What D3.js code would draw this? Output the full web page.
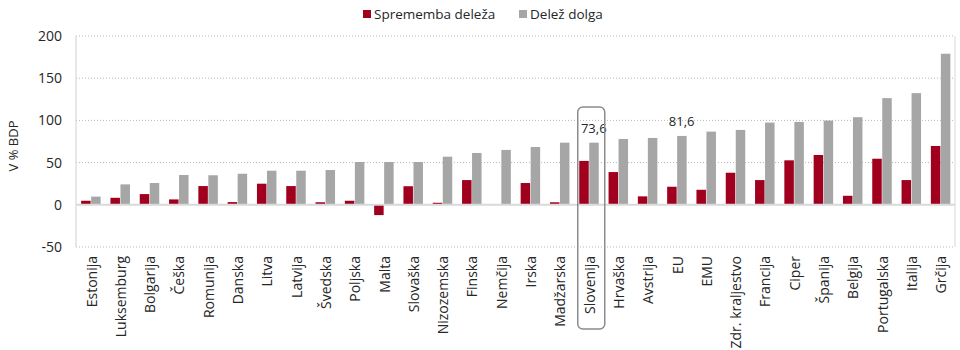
<!DOCTYPE html>
<html>
<head>
<meta charset="utf-8">
<script src="https://cdn.jsdelivr.net/npm/d3@7"></script>
<style>
  body { margin: 0; background: #fff; }
  text { font-family: "Open Sans", "Noto Sans", sans-serif; fill: #262626; }
</style>
</head>
<body>
<svg id="chart" width="960" height="350"></svg>
<script>
var countries = ["Estonija","Luksemburg","Bolgarija","Češka","Romunija","Danska","Litva","Latvija","Švedska","Poljska","Malta","Slovaška","Nizozemska","Finska","Nemčija","Irska","Madžarska","Slovenija","Hrvaška","Avstrija","EU","EMU","Zdr. kraljestvo","Francija","Ciper","Španija","Belgija","Portugalska","Italija","Grčija"]
var change = [4.8,8.3,12.7,6.4,22.2,3.2,25,22.2,3,4.8,-12.2,22,2.4,29.3,0,25.8,3,52,38.8,10,21.4,17.8,38,29.3,52.7,59,10.7,54.6,29.3,69.7]
var debt = [9.7,24.2,25.8,35.3,35,36.8,40.4,40.4,41.2,50.7,50.7,50.7,57,61.4,65,68.5,73.6,73.6,78,79.2,81.6,86.7,88.7,97.4,98.2,99.8,103.8,126.4,132.3,179]
var yTicks = [-50,0,50,100,150,200]
var seriesNames = ["Sprememba deleža","Delež dolga"]
var colors = ["#a0001e","#a6a6a6"]
var highlighted = "Slovenija"
var labelled = {"Slovenija":"73,6","EU":"81,6"}

var svg = d3.select('#chart')
var margin = {left: 76, right: 5, top: 36, bottom: 103}
var width = +svg.attr('width')
var height = +svg.attr('height')

var xscale = d3.scaleBand()
    .domain(countries)
    .range([margin.left, width - margin.right])
var yscale = d3.scaleLinear()
    .domain([-50, 200])
    .range([height - margin.bottom, margin.top])
var barW = 9.5

// grid
svg.append('g')
    .selectAll('line')
    .data(yTicks.filter(d => d != 0))
    .enter()
    .append('line')
    .attr('x1', margin.left)
    .attr('x2', width - margin.right)
    .attr('y1', d => yscale(d))
    .attr('y2', d => yscale(d))
    .attr('stroke', '#b8b8b8')
    .attr('stroke-dasharray', '1,2')

// plot borders left / right
svg.append('line').attr('x1', margin.left).attr('x2', margin.left)
    .attr('y1', yscale(200)).attr('y2', yscale(-50)).attr('stroke', '#d0d0d0')
svg.append('line').attr('x1', width - margin.right).attr('x2', width - margin.right)
    .attr('y1', yscale(200)).attr('y2', yscale(-50)).attr('stroke', '#d9d9d9')

// y axis
var yAxis = svg.append('g')
    .attr('transform', 'translate(' + margin.left + ',0)')
    .call(d3.axisLeft(yscale).tickValues(yTicks).tickSize(0).tickPadding(14).tickFormat(d => String(d)))
yAxis.select('.domain').remove()
yAxis.selectAll('text')
    .attr('font-size', 14)
    .attr('font-family', '"Open Sans", sans-serif')
    .attr('fill', '#262626')

svg.append('text')
    .text('V % BDP')
    .attr('transform', 'translate(18,' + 146 + ') rotate(-90)')
    .attr('text-anchor', 'middle')
    .attr('font-size', 13)

// bars
var bw = xscale.bandwidth()
svg.append('g')
    .selectAll('rect')
    .data(countries)
    .enter()
    .append('rect')
    .attr('x', d => xscale(d) + bw / 2 - barW)
    .attr('width', barW)
    .attr('y', (d, i) => yscale(Math.max(0, change[i])))
    .attr('height', (d, i) => Math.abs(yscale(change[i]) - yscale(0)))
    .attr('fill', colors[0])
svg.append('g')
    .selectAll('rect')
    .data(countries)
    .enter()
    .append('rect')
    .attr('x', d => xscale(d) + bw / 2 + 0.5)
    .attr('width', barW)
    .attr('y', (d, i) => yscale(debt[i]))
    .attr('height', (d, i) => yscale(0) - yscale(debt[i]))
    .attr('fill', colors[1])

// zero line
svg.append('line').attr('x1', margin.left).attr('x2', width - margin.right)
    .attr('y1', yscale(0)).attr('y2', yscale(0))
    .attr('stroke', '#d9d9d9').attr('stroke-width', 2)

// value labels
svg.append('g')
    .selectAll('text')
    .data(countries.filter(d => labelled[d]))
    .enter()
    .append('text')
    .attr('x', d => xscale(d) + bw / 2 + 5)
    .attr('y', d => yscale(debt[countries.indexOf(d)]) - 10)
    .attr('text-anchor', 'middle')
    .attr('font-size', 13)
    .text(d => labelled[d])

// category labels
svg.append('g')
    .selectAll('text')
    .data(countries)
    .enter()
    .append('text')
    .attr('transform', d => 'translate(' + (xscale(d) + bw / 2 + 1) + ',' + (height - margin.bottom + 9) + ') rotate(-90)')
    .attr('dy', '0.35em')
    .attr('text-anchor', 'end')
    .attr('font-size', 14)
    .text(d => d)

// highlight box
svg.append('rect')
    .attr('x', xscale(highlighted) + bw / 2 - 11)
    .attr('y', 107)
    .attr('width', 27)
    .attr('height', 222)
    .attr('rx', 5)
    .attr('fill', 'none')
    .attr('stroke', '#8c8c8c')
    .attr('stroke-width', 1.5)

// legend
var lg = svg.append('g')
var lx = [363, 519]
lg.selectAll('rect')
    .data(seriesNames)
    .enter()
    .append('rect')
    .attr('x', (d, i) => lx[i])
    .attr('y', 10)
    .attr('width', 8)
    .attr('height', 8)
    .attr('fill', (d, i) => colors[i])
lg.selectAll('text')
    .data(seriesNames)
    .enter()
    .append('text')
    .attr('x', (d, i) => lx[i] + 11)
    .attr('y', 19)
    .attr('font-size', 13.5)
    .text(d => d)
</script>
</body>
</html>
